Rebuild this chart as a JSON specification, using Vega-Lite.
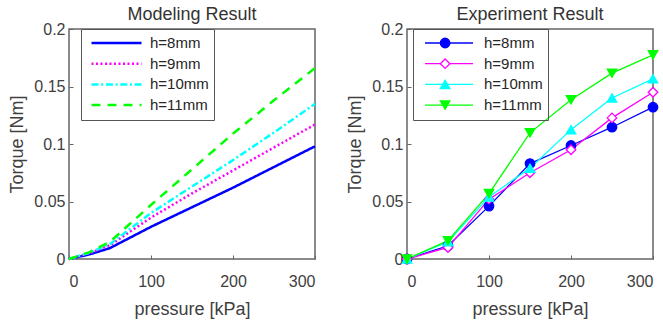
{
  "$schema": "https://vega.github.io/schema/vega-lite/v6.json",
  "padding": {"left": 8, "top": 5, "right": 0, "bottom": 0},
  "spacing": 25,
  "background": "white",
  "resolve": {"scale": {"stroke": "independent", "strokeDash": "independent", "shape": "independent", "fill": "independent", "color": "independent"}, "legend": {"stroke": "independent", "strokeDash": "independent", "shape": "independent", "fill": "independent", "color": "independent"}},
  "config": {
    "font": "Liberation Sans",
    "view": {"stroke": "#666666", "strokeWidth": 1.5},
    "axis": {
      "grid": false, "domain": false, "tickColor": "#666666", "tickSize": -4, "tickWidth": 1,
      "labelFont": "Liberation Sans", "labelFontSize": 16, "labelColor": "#404040",
      "titleFont": "Liberation Sans", "titleFontSize": 18, "titleFontWeight": "normal", "titleColor": "#404040"
    },
    "axisX": {"labelPadding": 18, "titlePadding": 11},
    "axisY": {"labelPadding": 8, "titlePadding": 7},
    "title": {"font": "Liberation Sans", "fontSize": 18, "fontWeight": "normal", "color": "#333333", "offset": -3}
  },
  "datasets": {
    "model": [
      {"h": "h=8mm", "p": 0, "t": 0}, {"h": "h=8mm", "p": 25, "t": 0.004}, {"h": "h=8mm", "p": 50, "t": 0.0095}, {"h": "h=8mm", "p": 100, "t": 0.028}, {"h": "h=8mm", "p": 150, "t": 0.045}, {"h": "h=8mm", "p": 200, "t": 0.062}, {"h": "h=8mm", "p": 250, "t": 0.08}, {"h": "h=8mm", "p": 300, "t": 0.098},
      {"h": "h=9mm", "p": 0, "t": 0}, {"h": "h=9mm", "p": 25, "t": 0.005}, {"h": "h=9mm", "p": 50, "t": 0.012}, {"h": "h=9mm", "p": 100, "t": 0.036}, {"h": "h=9mm", "p": 150, "t": 0.057}, {"h": "h=9mm", "p": 200, "t": 0.077}, {"h": "h=9mm", "p": 250, "t": 0.097}, {"h": "h=9mm", "p": 300, "t": 0.117},
      {"h": "h=10mm", "p": 0, "t": 0}, {"h": "h=10mm", "p": 25, "t": 0.0055}, {"h": "h=10mm", "p": 50, "t": 0.013}, {"h": "h=10mm", "p": 100, "t": 0.04}, {"h": "h=10mm", "p": 150, "t": 0.063}, {"h": "h=10mm", "p": 200, "t": 0.086}, {"h": "h=10mm", "p": 250, "t": 0.11}, {"h": "h=10mm", "p": 300, "t": 0.135},
      {"h": "h=11mm", "p": 0, "t": 0}, {"h": "h=11mm", "p": 25, "t": 0.006}, {"h": "h=11mm", "p": 50, "t": 0.015}, {"h": "h=11mm", "p": 100, "t": 0.047}, {"h": "h=11mm", "p": 150, "t": 0.078}, {"h": "h=11mm", "p": 200, "t": 0.109}, {"h": "h=11mm", "p": 250, "t": 0.138}, {"h": "h=11mm", "p": 300, "t": 0.166}
    ],
    "exp": [
      {"h": "h=8mm", "p": 0, "t": 0}, {"h": "h=8mm", "p": 50, "t": 0.0115}, {"h": "h=8mm", "p": 100, "t": 0.046}, {"h": "h=8mm", "p": 150, "t": 0.083}, {"h": "h=8mm", "p": 200, "t": 0.0987}, {"h": "h=8mm", "p": 250, "t": 0.1146}, {"h": "h=8mm", "p": 300, "t": 0.132},
      {"h": "h=9mm", "p": 0, "t": 0}, {"h": "h=9mm", "p": 50, "t": 0.01}, {"h": "h=9mm", "p": 100, "t": 0.052}, {"h": "h=9mm", "p": 150, "t": 0.075}, {"h": "h=9mm", "p": 200, "t": 0.095}, {"h": "h=9mm", "p": 250, "t": 0.1227}, {"h": "h=9mm", "p": 300, "t": 0.145},
      {"h": "h=10mm", "p": 0, "t": 0}, {"h": "h=10mm", "p": 50, "t": 0.015}, {"h": "h=10mm", "p": 100, "t": 0.054}, {"h": "h=10mm", "p": 150, "t": 0.079}, {"h": "h=10mm", "p": 200, "t": 0.1125}, {"h": "h=10mm", "p": 250, "t": 0.14}, {"h": "h=10mm", "p": 300, "t": 0.1567},
      {"h": "h=11mm", "p": 0, "t": 0}, {"h": "h=11mm", "p": 50, "t": 0.0159}, {"h": "h=11mm", "p": 100, "t": 0.0569}, {"h": "h=11mm", "p": 150, "t": 0.1097}, {"h": "h=11mm", "p": 200, "t": 0.1385}, {"h": "h=11mm", "p": 250, "t": 0.1616}, {"h": "h=11mm", "p": 300, "t": 0.1775}
    ]
  },
  "hconcat": [
    {
      "width": 246, "height": 230,
      "title": "Modeling Result",
      "data": {"name": "model"},
      "mark": {"type": "line", "strokeWidth": 2.5},
      "encoding": {
        "x": {"field": "p", "type": "quantitative", "scale": {"domain": [0, 300]}, "axis": {"values": [0, 100, 200, 300], "title": "pressure [kPa]"}},
        "y": {"field": "t", "type": "quantitative", "scale": {"domain": [0, 0.2]}, "axis": {"values": [0, 0.05, 0.1, 0.15, 0.2], "format": "~g", "title": "Torque [Nm]"}},
        "stroke": {
          "field": "h", "type": "nominal",
          "scale": {"domain": ["h=8mm", "h=9mm", "h=10mm", "h=11mm"], "range": ["#0000ff", "#ff00ff", "#00ffff", "#00ff00"]},
          "legend": {"orient": "none", "legendX": 12, "legendY": 0, "title": null, "symbolType": "stroke", "symbolSize": 2500, "symbolStrokeWidth": 2.5, "clipHeight": 18, "rowPadding": 2.7, "padding": 5, "symbolOffset": 4, "labelOffset": 7, "labelFontSize": 15, "labelFont": "Liberation Sans", "labelColor": "#262626", "strokeColor": "#555555", "fillColor": "white"}
        },
        "strokeDash": {
          "field": "h", "type": "nominal",
          "scale": {"domain": ["h=8mm", "h=9mm", "h=10mm", "h=11mm"], "range": [[1, 0], [2, 2.5], [7, 2.7, 2, 2.7], [9, 7]]},
          "legend": {"orient": "none", "legendX": 12, "legendY": 0, "title": null, "symbolType": "stroke", "symbolSize": 2500, "symbolStrokeWidth": 2.5, "clipHeight": 18, "rowPadding": 2.7, "padding": 5, "symbolOffset": 4, "labelOffset": 7, "labelFontSize": 15, "labelFont": "Liberation Sans", "labelColor": "#262626", "strokeColor": "#555555", "fillColor": "white"}
        }
      }
    },
    {
      "width": 246, "height": 230,
      "title": "Experiment Result",
      "data": {"name": "exp"},
      "encoding": {
        "x": {"field": "p", "type": "quantitative", "scale": {"domain": [0, 300]}, "axis": {"values": [0, 100, 200, 300], "title": "pressure [kPa]"}},
        "y": {"field": "t", "type": "quantitative", "scale": {"domain": [0, 0.2]}, "axis": {"values": [0, 0.05, 0.1, 0.15, 0.2], "format": "~g", "title": "Torque [Nm]"}}
      },
      "layer": [
        {
          "mark": {"type": "line", "strokeWidth": 1.3},
          "encoding": {
            "stroke": {
              "field": "h", "type": "nominal", "sort": ["h=8mm", "h=9mm", "h=10mm", "h=11mm"],
              "scale": {"range": ["#0000ff", "#ff00ff", "#00ffff", "#00ff00"]},
              "legend": {
                "orient": "none", "legendX": 6, "legendY": 0, "title": null, "symbolType": "stroke", "symbolSize": 2304, "symbolStrokeWidth": 1.3, "clipHeight": 18, "rowPadding": 2.7, "padding": 5, "symbolOffset": 6, "labelOffset": 10, "labelFontSize": 15, "labelFont": "Liberation Sans", "labelColor": "#262626", "strokeColor": "#555555", "fillColor": "transparent"
              }
            }
          }
        },
        {
          "mark": {"type": "point", "filled": false, "size": 90, "strokeWidth": 1.3, "opacity": 1, "fillOpacity": 1},
          "encoding": {
            "color": {"field": "h", "type": "nominal", "scale": {"domain": ["h=8mm", "h=9mm", "h=10mm", "h=11mm"], "range": ["#0000ff", "#ff00ff", "#00ffff", "#00ff00"]},
              "legend": {"orient": "none", "legendX": 6, "legendY": 0, "title": null, "symbolSize": 90, "symbolStrokeWidth": 1.3, "symbolOpacity": 1, "clipHeight": 18, "rowPadding": 2.7, "padding": 5, "symbolOffset": 19.6, "labelOffset": 10, "labelFontSize": 15, "labelExpr": "''", "labelColor": "transparent", "strokeColor": "transparent", "fillColor": "transparent"}},
            "shape": {"field": "h", "type": "nominal", "scale": {"domain": ["h=8mm", "h=9mm", "h=10mm", "h=11mm"], "range": ["circle", "diamond", "triangle-up", "triangle-down"]},
              "legend": {"orient": "none", "legendX": 6, "legendY": 0, "title": null, "symbolSize": 90, "symbolStrokeWidth": 1.3, "symbolOpacity": 1, "clipHeight": 18, "rowPadding": 2.7, "padding": 5, "symbolOffset": 19.6, "labelOffset": 10, "labelFontSize": 15, "labelExpr": "''", "labelColor": "transparent", "strokeColor": "transparent", "fillColor": "transparent"}},
            "fill": {"field": "h", "type": "nominal", "scale": {"domain": ["h=8mm", "h=9mm", "h=10mm", "h=11mm"], "range": ["#0000ff", "#ffffff", "#00ffff", "#00ff00"]},
              "legend": {"orient": "none", "legendX": 6, "legendY": 0, "title": null, "symbolSize": 90, "symbolStrokeWidth": 1.3, "symbolOpacity": 1, "clipHeight": 18, "rowPadding": 2.7, "padding": 5, "symbolOffset": 19.6, "labelOffset": 10, "labelFontSize": 15, "labelExpr": "''", "labelColor": "transparent", "strokeColor": "transparent", "fillColor": "transparent"}}
          }
        }
      ]
    }
  ]
}
